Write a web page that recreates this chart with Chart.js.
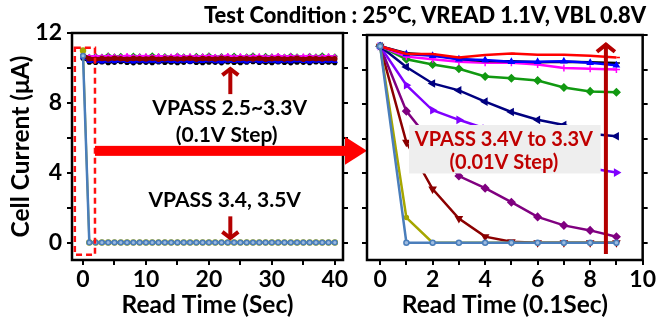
<!DOCTYPE html>
<html>
<head>
<meta charset="utf-8">
<script src="https://cdn.jsdelivr.net/npm/chart.js@4.4.0/dist/chart.umd.min.js"></script>
<style>
  html, body { margin: 0; padding: 0; background: #fff; }
  #wrap { position: relative; width: 657px; height: 324px; overflow: hidden; }
  #wrap canvas { position: absolute; left: 0; top: 0; }
  #cond { position: absolute; left: 204px; top: 1px; font: 900 21.9px Lato, sans-serif; white-space: nowrap; color: #000; }
</style>
</head>
<body>
<div id="wrap">
  <canvas id="leftChart" width="657" height="324"></canvas>
  <canvas id="rightChart" width="657" height="324"></canvas>
  <div id="cond">Test Condition : 25°C, VREAD 1.1V, VBL 0.8V</div>
</div>
<script>
// ---- left panel: read time in seconds ----
const leftTime = [0,1,2,3,4,5,6,7,8,9,10,11,12,13,14,15,16,17,18,19,20,21,22,23,24,25,26,27,28,29,30,31,32,33,34,35,36,37,38,39,40];
const leftXTicks = [0,5,10,15,20,25,30,35,40];
const yTicks = [0,2,4,6,8,10,12];

// VPASS 2.5 ~ 3.3V (flat band)
const left25 = [10.55,10.33,10.31,10.34,10.30,10.32,10.35,10.31,10.29,10.33,10.32,10.30,10.34,10.31,10.33,10.30,10.32,10.35,10.31,10.30,10.33,10.32,10.29,10.34,10.31,10.30,10.33,10.35,10.31,10.32,10.30,10.34,10.31,10.29,10.33,10.32,10.30,10.34,10.31,10.33,10.30];
const left26 = [10.60,10.38,10.40,10.36,10.39,10.37,10.41,10.38,10.36,10.40,10.37,10.39,10.36,10.41,10.38,10.37,10.40,10.36,10.39,10.38,10.41,10.37,10.36,10.40,10.38,10.39,10.36,10.41,10.37,10.38,10.40,10.36,10.39,10.37,10.41,10.38,10.36,10.40,10.37,10.39,10.38];
const left27 = [10.65,10.46,10.44,10.47,10.45,10.43,10.46,10.48,10.44,10.45,10.47,10.43,10.46,10.44,10.48,10.45,10.43,10.47,10.46,10.44,10.45,10.48,10.43,10.46,10.44,10.47,10.45,10.43,10.46,10.48,10.44,10.45,10.47,10.43,10.46,10.44,10.48,10.45,10.43,10.47,10.45];
const left28 = [10.68,10.51,10.49,10.52,10.50,10.48,10.53,10.50,10.49,10.51,10.52,10.48,10.50,10.53,10.49,10.51,10.50,10.48,10.52,10.50,10.49,10.53,10.51,10.48,10.50,10.52,10.49,10.51,10.53,10.48,10.50,10.52,10.49,10.51,10.50,10.48,10.53,10.50,10.49,10.52,10.50];
const left29 = [10.70,10.56,10.54,10.57,10.55,10.53,10.56,10.58,10.54,10.55,10.57,10.53,10.56,10.55,10.58,10.54,10.56,10.53,10.57,10.55,10.54,10.58,10.56,10.53,10.55,10.57,10.54,10.56,10.58,10.53,10.55,10.57,10.54,10.56,10.55,10.53,10.58,10.55,10.54,10.57,10.55];
const left30 = [10.70,10.64,10.70,10.65,10.72,10.66,10.69,10.64,10.71,10.67,10.65,10.72,10.66,10.68,10.64,10.71,10.67,10.65,10.69,10.66,10.72,10.64,10.68,10.66,10.71,10.65,10.67,10.72,10.64,10.69,10.66,10.68,10.65,10.71,10.67,10.64,10.69,10.66,10.72,10.65,10.67];
const left31 = [10.68,10.60,10.58,10.61,10.59,10.62,10.58,10.60,10.61,10.59,10.58,10.62,10.60,10.59,10.61,10.58,10.62,10.60,10.59,10.61,10.58,10.60,10.62,10.59,10.61,10.58,10.60,10.59,10.62,10.58,10.61,10.60,10.59,10.62,10.58,10.60,10.61,10.59,10.58,10.62,10.60];
const left32 = [10.72,10.66,10.69,10.65,10.70,10.67,10.66,10.71,10.65,10.68,10.69,10.66,10.70,10.65,10.67,10.71,10.66,10.69,10.65,10.68,10.70,10.66,10.67,10.71,10.65,10.69,10.66,10.68,10.70,10.65,10.67,10.71,10.66,10.69,10.65,10.68,10.70,10.66,10.67,10.69,10.66];
const left33 = [10.72,10.53,10.50,10.54,10.51,10.55,10.52,10.50,10.54,10.53,10.51,10.55,10.50,10.53,10.54,10.51,10.52,10.55,10.50,10.54,10.53,10.51,10.55,10.52,10.50,10.54,10.53,10.51,10.55,10.50,10.53,10.54,10.51,10.52,10.55,10.50,10.54,10.53,10.51,10.54,10.52];
// VPASS 3.4, 3.5V (drop to zero)
const left34 = [11.0,0,0,0,0,0,0,0,0,0,0,0,0,0,0,0,0,0,0,0,0,0,0,0,0,0,0,0,0,0,0,0,0,0,0,0,0,0,0,0,0];
const left35 = [10.7,0,0,0,0,0,0,0,0,0,0,0,0,0,0,0,0,0,0,0,0,0,0,0,0,0,0,0,0,0,0,0,0,0,0,0,0,0,0,0,0];

// ---- right panel: read time in 0.1 s ----
const rightTime = [0,1,2,3,4,5,6,7,8,9];
const rightXTicks = [0,1,2,3,4,5,6,7,8,9,10];
const right330 = [11.35,10.90,10.90,10.70,10.85,10.93,10.86,10.86,10.80,10.70];
const right331 = [11.35,10.95,10.85,10.62,10.50,10.48,10.42,10.45,10.42,10.38];
const right332 = [11.35,10.90,10.80,10.60,10.55,10.45,10.45,10.48,10.40,10.25];
const right333 = [11.35,10.75,10.60,10.45,10.40,10.40,10.30,10.10,10.05,10.00];
const right334 = [11.35,10.60,10.30,10.05,9.60,9.50,9.37,8.97,8.74,8.69];
const right335 = [11.35,10.15,9.20,8.80,8.15,7.55,7.10,6.80,6.30,6.15];
const right336 = [11.35,9.10,7.65,7.10,6.60,6.10,5.50,4.85,4.30,4.05];
const right337 = [11.35,7.60,5.70,3.85,3.15,2.34,1.49,1.00,0.71,0.34];
const right338 = [11.35,5.80,3.10,1.40,0.35,0.05,0,0,0,0];
const right339 = [11.35,1.45,0,0,0,0,0,0,0,0];
const right340 = [11.35,0,0,0,0,0,0,0,0,0];

const FONT = "Lato, 'Open Sans', sans-serif";
const DARKRED = '#b40000';

function pts(xs, ys) { return xs.map((x, i) => ({ x: x, y: ys[i] })); }

function line(data, color, style, extra) {
  return Object.assign({
    data: data, borderColor: color, backgroundColor: color,
    borderWidth: 2, pointStyle: style, pointRadius: 2.5, pointBorderWidth: 1.5,
    tension: 0, fill: false
  }, extra || {});
}

function axisX(ticks, min, max, title, every) {
  return {
    type: 'linear', position: 'bottom', min: min, max: max,
    afterBuildTicks: s => { s.ticks = ticks.map(v => ({ value: v })); },
    afterFit: s => { s.height = 64; },
    ticks: { autoSkip: false, maxRotation: 0, padding: 1, color: '#000',
      font: { family: FONT, size: 23, weight: 'bold' },
      callback: v => (v % every === 0 ? v : '') },
    grid: { display: true, drawOnChartArea: false, drawTicks: true, tickLength: 5, color: '#000', lineWidth: 2 },
    border: { display: false },
    title: { display: true, text: title, color: '#000', padding: { top: 0, bottom: 4 },
      font: { family: FONT, size: 24.5, weight: 'bold' } }
  };
}

function axisY(pos, width, showLabels, title) {
  return {
    type: 'linear', position: pos, min: -1, max: 12,
    afterBuildTicks: s => { s.ticks = yTicks.map(v => ({ value: v })); },
    afterFit: s => { s.width = width; },
    ticks: { autoSkip: false, padding: 5, color: '#000',
      font: { family: FONT, size: 23, weight: 'bold' },
      callback: v => (showLabels && v % 4 === 0 ? v : '') },
    grid: { display: true, drawOnChartArea: false, drawTicks: true, tickLength: 5, color: '#000', lineWidth: 2 },
    border: { display: false },
    title: { display: !!title, text: title || '', color: '#000', padding: { top: 6, bottom: 0 },
      font: { family: FONT, size: 24.5, weight: 'bold' } }
  };
}

const framePlugin = {
  id: 'frame',
  afterDatasetsDraw(chart) {
    const a = chart.chartArea, ctx = chart.ctx;
    ctx.save();
    ctx.strokeStyle = '#000';
    ctx.lineWidth = 2.5;
    ctx.strokeRect(a.left, a.top, a.right - a.left, a.bottom - a.top);
    ctx.restore();
  }
};

function chevronArrow(ctx, x, y1, y2, color, head) {
  // vertical arrow from y1 to y2 (head at y2)
  const dir = y2 < y1 ? 1 : -1;
  ctx.save();
  ctx.strokeStyle = color;
  ctx.lineWidth = 4;
  ctx.lineCap = 'butt';
  ctx.beginPath();
  ctx.moveTo(x, y1); ctx.lineTo(x, y2);
  ctx.stroke();
  ctx.lineJoin = 'miter';
  ctx.beginPath();
  ctx.moveTo(x - head, y2 + dir * head * 0.9);
  ctx.lineTo(x, y2 + dir * 1);
  ctx.lineTo(x + head, y2 + dir * head * 0.9);
  ctx.stroke();
  ctx.restore();
}

const leftNotes = {
  id: 'leftNotes',
  afterDraw(chart) {
    const ctx = chart.ctx, xs = chart.scales.x, ys = chart.scales.y;
    const a = chart.chartArea;
    // dashed box around the first second
    ctx.save();
    ctx.strokeStyle = '#ff1010';
    ctx.lineWidth = 2.5;
    ctx.setLineDash([6, 4]);
    const bx1 = xs.getPixelForValue(-1.3), bx2 = xs.getPixelForValue(1.9);
    const by1 = ys.getPixelForValue(11.15), by2 = ys.getPixelForValue(-0.7);
    ctx.strokeRect(bx1, by1, bx2 - bx1, by2 - by1);
    ctx.restore();

    // big red arrow towards the right panel
    const ay = ys.getPixelForValue(5.25);
    ctx.save();
    ctx.fillStyle = '#ff0000';
    ctx.fillRect(bx2, ay - 5, a.right + 4 - bx2, 10);
    ctx.beginPath();
    ctx.moveTo(a.right + 2, ay - 14);
    ctx.lineTo(a.right + 24, ay);
    ctx.lineTo(a.right + 2, ay + 14);
    ctx.closePath();
    ctx.fill();
    ctx.restore();

    // labels
    const tx = xs.getPixelForValue(22.5);
    ctx.save();
    ctx.fillStyle = '#000';
    ctx.font = 'bold 21px ' + FONT;
    ctx.textAlign = 'center';
    ctx.textBaseline = 'middle';
    ctx.fillText('VPASS 2.5~3.3V', tx + 5, ys.getPixelForValue(7.7));
    ctx.fillText('(0.1V Step)', tx + 2, ys.getPixelForValue(6.15));
    ctx.fillText('VPASS 3.4, 3.5V', tx, ys.getPixelForValue(2.45));
    ctx.restore();

    const arX = xs.getPixelForValue(23.4);
    chevronArrow(ctx, arX, ys.getPixelForValue(8.5), ys.getPixelForValue(10.0), DARKRED, 8);
    chevronArrow(ctx, arX, ys.getPixelForValue(1.5), ys.getPixelForValue(0.2), DARKRED, 8);
  }
};

const rightNotes = {
  id: 'rightNotes',
  afterDraw(chart) {
    const ctx = chart.ctx, xs = chart.scales.x, ys = chart.scales.y;
    // grey label box
    const gx1 = xs.getPixelForValue(1.1), gx2 = xs.getPixelForValue(8.4);
    const gy1 = ys.getPixelForValue(6.8), gy2 = ys.getPixelForValue(4.0);
    ctx.save();
    ctx.fillStyle = '#eeeeee';
    ctx.fillRect(gx1, gy1, gx2 - gx1, gy2 - gy1);
    ctx.fillStyle = '#c00000';
    ctx.font = 'bold 20px ' + FONT;
    ctx.textAlign = 'center';
    ctx.textBaseline = 'middle';
    const cx = xs.getPixelForValue(4.6);
    ctx.fillText('VPASS 3.4V to 3.3V', cx + 3, ys.getPixelForValue(5.95));
    ctx.fillText('(0.01V Step)', cx + 3, ys.getPixelForValue(4.65));
    ctx.restore();

    // tall arrow
    chevronArrow(ctx, xs.getPixelForValue(8.6), ys.getPixelForValue(-0.65), ys.getPixelForValue(11.5), DARKRED, 9);
  }
};

new Chart(document.getElementById('leftChart'), {
  type: 'line',
  data: {
    datasets: [
      line(pts(leftTime, left35), '#4a7ebb', 'circle', { pointRadius: 2.3, pointBackgroundColor: '#9dbbe0', borderWidth: 2.5 }),
      line(pts(leftTime, left34), '#a6a600', 'circle', { pointRadius: 2.5 }),
      line(pts(leftTime, left33), '#8b0000', 'circle', { borderWidth: 4, pointRadius: 2 }),
      line(pts(leftTime, left32), '#ff00ff', 'cross', { pointRadius: 2.5 }),
      line(pts(leftTime, left30), '#119911', 'rectRot', { pointRadius: 2 }),
      line(pts(leftTime, left26), '#0000ff', 'triangle', { pointRadius: 2 }),
      line(pts(leftTime, left31), '#800080', 'rect', { pointRadius: 1.5 }),
      line(pts(leftTime, left29), '#ff0000', 'dash', { pointRadius: 2 }),
      line(pts(leftTime, left28), '#8000ff', 'triangle', { pointRadius: 1.5 }),
      line(pts(leftTime, left27), '#000080', 'triangle', { pointRadius: 1.5 }),
      line(pts(leftTime, left25), '#000000', 'circle', { pointRadius: 1.8 })
    ]
  },
  options: {
    responsive: false, animation: false,
    layout: { padding: { left: 0, top: 33, right: 305, bottom: 0 } },
    plugins: { legend: { display: false }, tooltip: { enabled: false } },
    scales: {
      x: axisX(leftXTicks, -1.75, 41.3, 'Read Time (Sec)', 10),
      y: axisY('left', 72, true, 'Cell Current (\u03bcA)'),
      y2: axisY('right', 9, false)
    }
  },
  plugins: [framePlugin, leftNotes]
});

new Chart(document.getElementById('rightChart'), {
  type: 'line',
  data: {
    datasets: [
      line(pts(rightTime, right340), '#4a7ebb', 'circle', { borderWidth: 2.5, pointRadius: 2.5, pointBackgroundColor: '#9dbbe0' }),
      line(pts(rightTime, right339), '#a6a600', 'circle', { borderWidth: 2.5, pointRadius: 2 }),
      line(pts(rightTime, right330), '#ff0000', 'dash', { borderWidth: 2.5, pointRadius: 3.5 }),
      line(pts(rightTime, right332), '#0000ff', 'triangle', { borderWidth: 2.5, pointRadius: 3 }),
      line(pts(rightTime, right331), '#000000', 'dash', { borderWidth: 2.5, pointRadius: 3.5 }),
      line(pts(rightTime, right333), '#ff00ff', 'cross', { borderWidth: 2.5, pointRadius: 3.5 }),
      line(pts(rightTime, right334), '#119911', 'rectRot', { borderWidth: 2.5, pointRadius: 3.5 }),
      line(pts(rightTime, right335), '#000080', 'triangle', { borderWidth: 2.5, pointRadius: 3.5, pointRotation: -90 }),
      line(pts(rightTime, right336), '#8000ff', 'triangle', { borderWidth: 2.5, pointRadius: 3.5, pointRotation: 90 }),
      line(pts(rightTime, right337), '#800080', 'rectRot', { borderWidth: 2.5, pointRadius: 3.5 }),
      line(pts(rightTime, right338), '#8b0000', 'triangle', { borderWidth: 2.5, pointRadius: 3.5, pointRotation: 180 })
    ]
  },
  options: {
    responsive: false, animation: false,
    layout: { padding: { left: 355, top: 35, right: 0, bottom: 0 } },
    plugins: { legend: { display: false }, tooltip: { enabled: false } },
    scales: {
      x: axisX(rightXTicks, -0.5, 10, 'Read Time (0.1Sec)', 2),
      y: axisY('left', 12, false),
      y2: axisY('right', 14, false)
    }
  },
  plugins: [framePlugin, rightNotes]
});
</script>
</body>
</html>
